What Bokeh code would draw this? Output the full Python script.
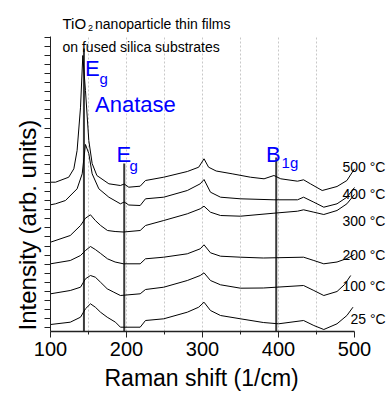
from bokeh.plotting import figure
from bokeh.models import FixedTicker, Label, Range1d, Title
from bokeh.embed import file_html
from bokeh.resources import INLINE
import numpy as np

FONT = "Liberation Sans"

# Raman spectra (shift in 1/cm, intensity in arbitrary units incl. vertical offset)
shift_25 = [100, 126, 139.5, 146, 152.6, 159, 165.8, 174.6, 185.5, 192, 218, 225, 249, 280, 295, 302,
            310.5, 323.7, 350, 380, 400, 433, 446.5, 459.6, 477, 490, 498]
int_25 = [7, 9.3, 14.3, 22.7, 27.7, 24.3, 19.3, 14.3, 9.3, 4.3, 4.3, 11, 12.7, 19.3, 24.3, 29.3,
          21, 16, 12.7, 9, 7.7, 11, 6, 2, 7.7, 16, 24.3]

shift_100 = [100, 126, 139.5, 146, 152.6, 159, 165.8, 174.6, 183.3, 192, 218, 225, 249, 280, 297, 302,
             310.5, 323.7, 350, 380, 433, 446.5, 459.6, 477, 487, 495]
int_100 = [37.7, 41, 44.3, 52.7, 56, 54.3, 49.3, 42.7, 39.3, 36, 37.7, 42, 44.3, 51, 56, 58.7,
           51, 46.7, 43.3, 43.5, 46, 41, 36, 40, 47, 56]

shift_200 = [100, 126, 139.5, 146, 152.6, 159, 166, 175, 185, 196, 218, 225, 249, 280, 297, 302,
             310.5, 323.7, 350, 380, 433, 446.5, 459.6, 477, 490, 500]
int_200 = [67.7, 71, 76, 81, 85, 82, 78, 72.7, 69.5, 67.7, 67.7, 72.7, 74.3, 77.7, 82.7, 86.7,
           78.7, 75.3, 74.3, 73.5, 74.3, 71, 67.7, 69.5, 73, 77]

shift_300 = [100, 126, 139.5, 146, 152.6, 159, 166, 175, 185, 196, 218, 225, 249, 280, 297, 302,
             310.5, 323.7, 350, 394, 425, 433, 446.5, 459.6, 477, 490, 500]
int_300 = [89.3, 96, 106, 113.3, 116.7, 111, 106, 101, 100, 99.5, 101, 106, 111, 117.7, 122.7, 125.3,
           119.3, 116, 115.3, 118.3, 120.3, 121.7, 119.3, 117, 121, 127.7, 137]

shift_400 = [100, 106.6, 119.7, 135, 141.7, 146, 150.4, 154.8, 163.6, 176.8, 192, 197, 203, 218, 225,
             249, 280, 297, 302, 310.5, 323.7, 350, 394, 425, 433, 446.5, 459.6, 477, 490, 500]
int_400 = [126.7, 127.7, 131, 142.7, 157.7, 187, 178, 157.7, 142.7, 134.3, 127.7, 129.5, 126.5, 126, 132.7,
           134.3, 141, 147.7, 152, 139.3, 134.3, 132.7, 131.7, 131.7, 134.3, 129.3, 124.3, 127.7, 134.3, 144]

shift_500 = [100, 106.6, 124, 130.7, 135, 139.5, 142.5, 146, 150.4, 154.8, 161, 176.8, 192, 197, 203,
             218, 225, 249, 280, 295, 302, 308, 318, 339, 363, 381, 394, 403, 425, 433, 442, 457.5,
             477, 490, 500]
int_500 = [149.3, 149.3, 154.3, 162.7, 181, 224.3, 276, 241, 191, 168, 156, 147.7, 146, 147.5, 144.3,
           145.3, 151, 154.3, 160, 164.3, 172.7, 164.3, 160.5, 157.7, 154.3, 152.7, 156, 152.7, 150.3,
           151.7, 147.7, 141, 145, 151, 162.7]

spectra = [(shift_25, int_25), (shift_100, int_100), (shift_200, int_200),
           (shift_300, int_300), (shift_400, int_400), (shift_500, int_500)]

temp_labels = ["25 °C", "100 °C", "200 °C", "300 °C", "400 °C", "500 °C"]
temp_label_x = [494.7, 484.2, 484.2, 484.2, 484.2, 484.2]
temp_label_y = [12.7, 46, 77, 110.3, 137.7, 164.3]

# Raman mode positions (1/cm) and marker heights
mode_pos = [144, 197, 397]
mode_top = [283, 168, 174]

x_ticks = [100, 200, 300, 400, 500]
x_minor = [150, 250, 350, 450]
grid_ticks = [150, 200, 250, 300, 350, 400, 450]
y_ticks = list(np.linspace(3.7, 294.3, 33))
Y_TOP = 295

p = figure(width=388, height=399, output_backend="svg", toolbar_location=None,
           x_range=Range1d(100, 544.74), y_range=Range1d(0, 331),
           min_border_left=50, min_border_right=0, min_border_top=0, min_border_bottom=68)
p.outline_line_color = None
p.background_fill_color = "white"
p.border_fill_color = "white"

# axes
p.xaxis.bounds = (100, 500)
p.xaxis.ticker = FixedTicker(ticks=x_ticks, minor_ticks=x_minor)
p.xaxis.major_label_text_font = FONT
p.xaxis.major_label_text_font_size = "20px"
p.xaxis.major_label_text_color = "black"
p.xaxis.major_label_standoff = 4
p.xaxis.major_tick_out = 6
p.xaxis.major_tick_in = 0
p.xaxis.minor_tick_out = 3
p.xaxis.minor_tick_in = 0
p.xaxis.axis_line_width = 1.5
p.xaxis.axis_line_color = "#222222"
p.xaxis.major_tick_line_color = "#222222"
p.xaxis.minor_tick_line_color = "#222222"

p.yaxis.bounds = (0, Y_TOP)
p.yaxis.ticker = FixedTicker(ticks=y_ticks)
p.yaxis.major_label_text_font_size = "0px"
p.yaxis.major_label_text_color = None
p.yaxis.major_label_standoff = 0
p.yaxis.major_tick_out = 6
p.yaxis.major_tick_in = 0
p.yaxis.minor_tick_line_color = None
p.yaxis.axis_line_color = "#222222"
p.yaxis.major_tick_line_color = "#222222"

p.xgrid.visible = False
p.ygrid.visible = False

# axis titles (panel titles, positioned from the frame's start like the reference)
p.add_layout(Title(text="Raman shift (1/cm)", text_font=FONT, text_font_size="23px",
                   text_font_style="normal", text_color="black", align="left",
                   offset=54, standoff=9), "below")
p.add_layout(Title(text="Intensity (arb. units)", text_font=FONT, text_font_size="24px",
                   text_font_style="normal", text_color="black", align="left",
                   offset=1, standoff=8), "left")

# dashed vertical grid
p.segment(x0=grid_ticks, y0=[0] * len(grid_ticks), x1=grid_ticks, y1=[Y_TOP] * len(grid_ticks),
          line_color="#c8c8c8", line_width=1, line_dash="2 2")

# mode markers
p.segment(x0=mode_pos, y0=[0, 0, 0], x1=mode_pos, y1=mode_top, line_color="#3a3a3a", line_width=2)

# spectra
for sx, sy in spectra:
    p.line(sx, sy, line_color="black", line_width=1)


def lab(x, y, text, size, color="black"):
    p.add_layout(Label(x=x, y=y, text=text, text_font=FONT, text_font_size=size,
                       text_color=color, text_baseline="alphabetic", text_align="left"))


# temperature labels
for t, tx, ty in zip(temp_labels, temp_label_x, temp_label_y):
    lab(tx, ty, t, "14px")

# title lines
lab(115.8, 308, "TiO", "15px")
lab(149.5, 304, "2", "9px")
lab(158.6, 308, "nanoparticle thin films", "14px")
lab(115.8, 284.5, "on fused silica substrates", "14px")

# mode labels
BLUE = "#0000ff"
lab(145.4, 263, "E", "22px", BLUE)
lab(164.5, 253, "g", "15px", BLUE)
lab(158.6, 227.5, "Anatase", "22px", BLUE)
lab(186.8, 177, "E", "22px", BLUE)
lab(203.9, 166.5, "g", "15px", BLUE)
lab(383.6, 177, "B", "22px", BLUE)
lab(404, 168.6, "1g", "15px", BLUE)

open("out.html", "w").write(file_html(p, INLINE))
